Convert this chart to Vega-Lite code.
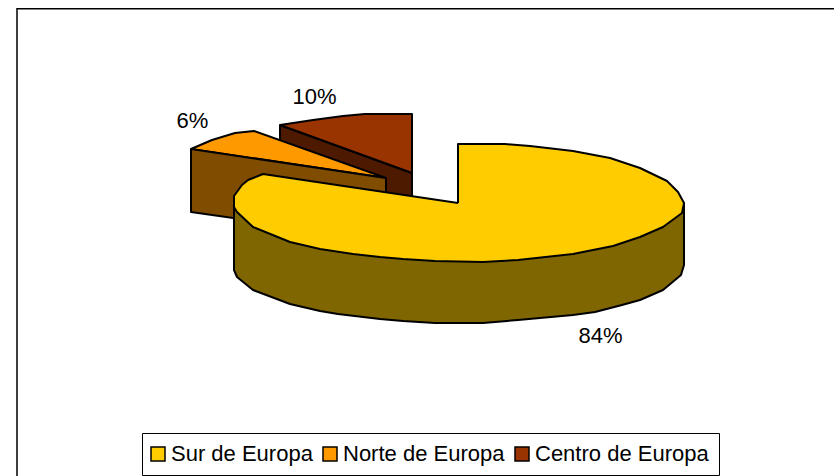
{
"$schema":"https://vega.github.io/schema/vega-lite/v6.json",
"width":834,"height":476,"padding":0,"autosize":"none",
"background":"white",
"view":{"stroke":null},
"datasets":{
"shapes":[
{"part":"Centro lado","o":0,"x":280,"y":125},{"part":"Centro lado","o":1,"x":412,"y":173},{"part":"Centro lado","o":2,"x":412,"y":235},{"part":"Centro lado","o":3,"x":280,"y":187},{"part":"Centro lado","o":4,"x":280,"y":125},
{"part":"Centro de Europa","o":0,"x":412,"y":173},{"part":"Centro de Europa","o":1,"x":412,"y":114},{"part":"Centro de Europa","o":2,"x":365,"y":114},{"part":"Centro de Europa","o":3,"x":343,"y":116},{"part":"Centro de Europa","o":4,"x":313,"y":120},{"part":"Centro de Europa","o":5,"x":280,"y":125},{"part":"Centro de Europa","o":6,"x":412,"y":173},
{"part":"Norte de Europa","o":0,"x":386,"y":178},{"part":"Norte de Europa","o":1,"x":254,"y":131},{"part":"Norte de Europa","o":2,"x":235,"y":133},{"part":"Norte de Europa","o":3,"x":212,"y":140},{"part":"Norte de Europa","o":4,"x":191,"y":149},{"part":"Norte de Europa","o":5,"x":386,"y":178},
{"part":"Norte lado","o":0,"x":191,"y":149},{"part":"Norte lado","o":1,"x":386,"y":178},{"part":"Norte lado","o":2,"x":386,"y":240},{"part":"Norte lado","o":3,"x":191,"y":212},{"part":"Norte lado","o":4,"x":191,"y":149},
{"part":"Sur lado","o":0,"x":234,"y":207},{"part":"Sur lado","o":1,"x":234,"y":270},{"part":"Sur lado","o":2,"x":237,"y":277},{"part":"Sur lado","o":3,"x":253,"y":290},{"part":"Sur lado","o":4,"x":290,"y":304},{"part":"Sur lado","o":5,"x":320,"y":311},{"part":"Sur lado","o":6,"x":338,"y":314},{"part":"Sur lado","o":7,"x":380,"y":319},{"part":"Sur lado","o":8,"x":403,"y":321},{"part":"Sur lado","o":9,"x":435,"y":323},{"part":"Sur lado","o":10,"x":483,"y":323},{"part":"Sur lado","o":11,"x":518,"y":320},{"part":"Sur lado","o":12,"x":573,"y":315},{"part":"Sur lado","o":13,"x":595,"y":312},{"part":"Sur lado","o":14,"x":622,"y":305},{"part":"Sur lado","o":15,"x":640,"y":300},{"part":"Sur lado","o":16,"x":663,"y":290},{"part":"Sur lado","o":17,"x":681,"y":275},{"part":"Sur lado","o":18,"x":684,"y":265},{"part":"Sur lado","o":19,"x":684,"y":203},{"part":"Sur lado","o":20,"x":460,"y":230},{"part":"Sur lado","o":21,"x":234,"y":207},
{"part":"Sur de Europa","o":0,"x":458,"y":203},{"part":"Sur de Europa","o":1,"x":458,"y":144},{"part":"Sur de Europa","o":2,"x":505,"y":144},{"part":"Sur de Europa","o":3,"x":530,"y":146},{"part":"Sur de Europa","o":4,"x":573,"y":151},{"part":"Sur de Europa","o":5,"x":610,"y":158},{"part":"Sur de Europa","o":6,"x":640,"y":168},{"part":"Sur de Europa","o":7,"x":667,"y":181},{"part":"Sur de Europa","o":8,"x":678,"y":192},{"part":"Sur de Europa","o":9,"x":684,"y":203},{"part":"Sur de Europa","o":10,"x":682,"y":213},{"part":"Sur de Europa","o":11,"x":663,"y":227},{"part":"Sur de Europa","o":12,"x":640,"y":237},{"part":"Sur de Europa","o":13,"x":613,"y":246},{"part":"Sur de Europa","o":14,"x":573,"y":254},{"part":"Sur de Europa","o":15,"x":518,"y":260},{"part":"Sur de Europa","o":16,"x":483,"y":262},{"part":"Sur de Europa","o":17,"x":435,"y":261},{"part":"Sur de Europa","o":18,"x":403,"y":259},{"part":"Sur de Europa","o":19,"x":380,"y":257},{"part":"Sur de Europa","o":20,"x":353,"y":254},{"part":"Sur de Europa","o":21,"x":320,"y":249},{"part":"Sur de Europa","o":22,"x":290,"y":242},{"part":"Sur de Europa","o":23,"x":253,"y":227},{"part":"Sur de Europa","o":24,"x":237,"y":212},{"part":"Sur de Europa","o":25,"x":234,"y":207},{"part":"Sur de Europa","o":26,"x":234,"y":196},{"part":"Sur de Europa","o":27,"x":242,"y":185},{"part":"Sur de Europa","o":28,"x":248,"y":180},{"part":"Sur de Europa","o":29,"x":263,"y":174},{"part":"Sur de Europa","o":30,"x":458,"y":203}
],
"labels":[{"t":"84%","x":600.5,"y":343},{"t":"6%","x":192.5,"y":127.5},{"t":"10%","x":314.5,"y":104}],
"frame":[{"x":17,"x2":850,"y":8.75,"y2":490}]
},
"layer":[
{"data":{"name":"frame"},"mark":{"type":"rect","fill":"white","stroke":"black","strokeWidth":1.5,"clip":true},
"encoding":{"x":{"field":"x","type":"quantitative","scale":{"domain":[0,834]},"axis":null},"x2":{"field":"x2"},"y":{"field":"y","type":"quantitative","scale":{"domain":[476,0]},"axis":null},"y2":{"field":"y2"}}},
{"data":{"name":"shapes"},"mark":{"type":"line","stroke":"black","strokeWidth":2,"strokeJoin":"round"},
"encoding":{"x":{"field":"x","type":"quantitative","scale":{"domain":[0,834]},"axis":null},"y":{"field":"y","type":"quantitative","scale":{"domain":[476,0]},"axis":null},"order":{"field":"o"},
"fill":{"field":"part","type":"nominal","sort":null,"scale":{"domain":["Sur de Europa","Norte de Europa","Centro de Europa","Sur lado","Norte lado","Centro lado"],"range":["#FFCC00","#FF9900","#993300","#806600","#804D00","#4D1A00"]},
"legend":{"values":["Sur de Europa","Norte de Europa","Centro de Europa"],"title":null,"orient":"none","legendX":142,"legendY":433,"direction":"horizontal","columns":3,"columnPadding":7,"symbolType":"square","symbolSize":196,"symbolOffset":-5,"symbolStrokeColor":"black","symbolStrokeWidth":1.5,"labelFontSize":22,"labelFont":"Liberation Sans","labelColor":"black","labelOffset":2,"labelLimit":400,"strokeColor":"black","fillColor":"white","padding":10}}}},
{"data":{"name":"labels"},"mark":{"type":"text","font":"Liberation Sans","fontSize":22,"fill":"black","baseline":"alphabetic","align":"center"},
"encoding":{"x":{"field":"x","type":"quantitative","scale":{"domain":[0,834]},"axis":null},"y":{"field":"y","type":"quantitative","scale":{"domain":[476,0]},"axis":null},"text":{"field":"t"}}}
]
}
